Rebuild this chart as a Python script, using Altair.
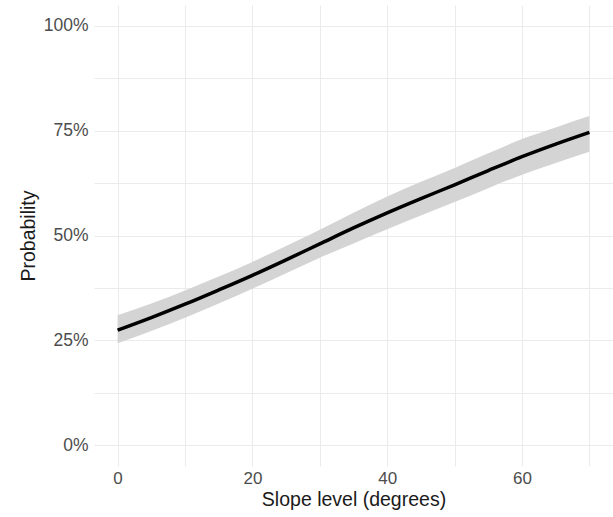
import altair as alt
import pandas as pd

# Predicted probability by slope level, with its confidence band
slope = [0, 5, 10, 15, 20, 25, 30, 35, 40, 45, 50, 55, 60, 65, 70]
prob = [0.274, 0.304, 0.336, 0.370, 0.405, 0.442, 0.480, 0.518, 0.554,
        0.588, 0.621, 0.655, 0.688, 0.718, 0.746]
lower = [0.243, 0.272, 0.304, 0.338, 0.373, 0.410, 0.447, 0.481, 0.515,
         0.548, 0.580, 0.613, 0.645, 0.673, 0.700]
upper = [0.310, 0.338, 0.369, 0.402, 0.437, 0.475, 0.514, 0.554, 0.593,
         0.628, 0.661, 0.696, 0.730, 0.758, 0.785]

x_ticks = [0, 10, 20, 30, 40, 50, 60, 70]
y_ticks = [0, 0.125, 0.25, 0.375, 0.5, 0.625, 0.75, 0.875, 1.0]

df = pd.DataFrame({"slope": slope, "prob": prob, "lower": lower, "upper": upper})

FONT = "Liberation Sans"

x_scale = alt.Scale(domain=[-3.5, 73.5], nice=False, zero=False)
y_scale = alt.Scale(domain=[-0.05, 1.05], nice=False, zero=False)

x_axis = alt.Axis(
    values=x_ticks,
    labelExpr="datum.value % 20 == 0 ? datum.label : ''",
    title="Slope level (degrees)",
    domain=False, ticks=False, tickSize=0,
    labelPadding=4, labelFontSize=17, labelColor="#4d4d4d", labelFont=FONT,
    labelFlush=False, labelOverlap=False,
    titleFontSize=19.5, titleFont=FONT, titleColor="#1a1a1a", titleFontWeight="normal",
    titleBaseline="alphabetic", titleY=39.5, titleX=259.5, titleAlign="center",
    grid=True, gridColor="#ebebeb", gridWidth=1,
)

y_axis = alt.Axis(
    values=y_ticks,
    labelExpr="datum.value % 0.25 == 0 ? format(datum.value, '.0%') : ''",
    title="Probability",
    domain=False, ticks=False, tickSize=0,
    labelPadding=6, labelFontSize=17.5, labelColor="#4d4d4d", labelFont=FONT,
    labelFlush=False, labelOverlap=False,
    titleFontSize=19.5, titleFont=FONT, titleColor="#1a1a1a", titleFontWeight="normal",
    titleAngle=-90, titleBaseline="alphabetic", titleAlign="center",
    titleX=-60, titleY=230.5,
    grid=True, gridColor="#ebebeb", gridWidth=1,
)

band = alt.Chart(df).mark_area(color="#d4d4d4", opacity=1, interpolate="monotone").encode(
    x=alt.X("slope:Q", scale=x_scale, axis=x_axis),
    y=alt.Y("lower:Q", scale=y_scale, axis=y_axis),
    y2="upper:Q",
)

line = alt.Chart(df).mark_line(color="#000000", strokeWidth=3.5, interpolate="monotone").encode(
    x=alt.X("slope:Q", scale=x_scale, axis=x_axis),
    y=alt.Y("prob:Q", scale=y_scale, axis=y_axis),
)

chart = (
    alt.layer(band, line)
    .properties(
        width=519,
        height=461,
        autosize=alt.AutoSizeParams(type="none"),
        padding={"left": 94, "top": 5, "right": 0, "bottom": 51},
        background="white",
    )
    .configure_view(stroke=None)
)

chart.save("out.html", embed_options={"renderer": "svg", "actions": False})
